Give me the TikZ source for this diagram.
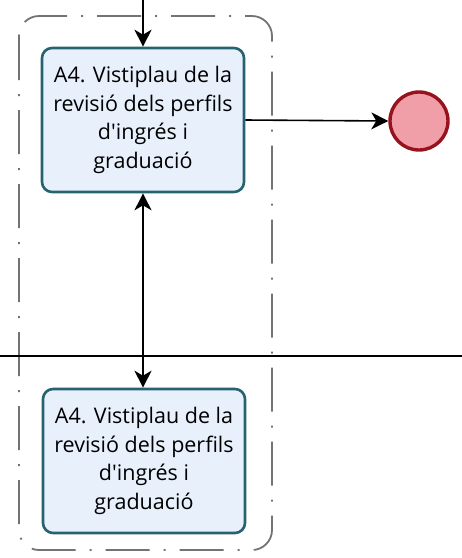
\documentclass[tikz,border=0pt]{standalone}
\usepackage{fontspec}
\setmainfont{Open Sans}
\usetikzlibrary{arrows.meta,positioning}
\definecolor{vorada}{RGB}{38,98,112}
\definecolor{fons}{RGB}{232,240,252}
\definecolor{fivora}{RGB}{150,18,28}
\definecolor{fifons}{RGB}{240,158,168}
\tikzset{
  tasca/.style={draw=vorada,fill=fons,line width=2.6pt,rounded corners=10pt,
    minimum width=202pt,minimum height=144pt,align=center,
    font=\fontsize{21.5}{28.5}\selectfont},
  fi/.style={circle,draw=fivora,fill=fifons,line width=3.4pt,minimum size=58pt,inner sep=0pt},
  flux/.style={line width=1.6pt,-{Stealth[length=17pt,width=17pt,inset=5pt]}},
  grup/.style={draw=gray!90!black,line width=1.8pt,rounded corners=20pt,
    dash pattern=on 44pt off 14pt on 2pt off 14pt}
}
\begin{document}
\begin{tikzpicture}[x=1pt,y=-1pt]
\useasboundingbox (0,0) rectangle (462,558);
% grup
\draw[grup] (19,16) rectangle (272,550);
% carril
\coordinate (esq) at (0,356);
\coordinate (dre) at (462,356);
\draw[line width=1.2pt] (esq) -- (dre);
\node[tasca] (A) at (143,120) {A4. Vistiplau de la\\revisió dels perfils\\d\textquotesingle ingrés i\\graduació};
\node[tasca] (B) at (144,461) {A4. Vistiplau de la\\revisió dels perfils\\d\textquotesingle ingrés i\\graduació};
\node[fi] (F) at (419,121) {};
\coordinate (inici) at (143,0);
\draw[flux] (inici) -- (A.north);
\draw[flux] (A.east) -- (F.west);
\draw[flux,{Stealth[length=17pt,width=17pt,inset=5pt]}-{Stealth[length=17pt,width=17pt,inset=5pt]}] (A.south) -- (A.south |- B.north);
\end{tikzpicture}
\end{document}
